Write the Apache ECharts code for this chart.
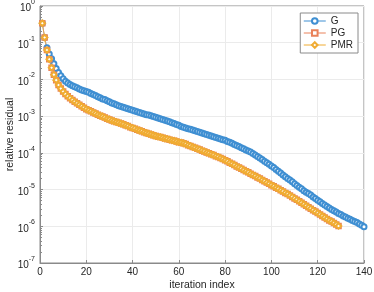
<!DOCTYPE html>
<html>
<head>
<meta charset="utf-8">
<script src="https://cdn.jsdelivr.net/npm/echarts@6/dist/echarts.min.js"></script>
<style>html,body{margin:0;padding:0;background:#fff}#c{width:374px;height:292px}</style>
</head>
<body>
<div id="c"></div>
<script>
// log10 of relative residual, iterations 1..N
const gLog10 = [-0.47,-0.86,-1.14,-1.31,-1.44,-1.57,-1.70,-1.81,-1.90,-1.98,
-2.05,-2.10,-2.14,-2.17,-2.20,-2.23,-2.26,-2.29,-2.31,-2.33,
-2.35,-2.38,-2.41,-2.44,-2.47,-2.50,-2.53,-2.55,-2.58,-2.61,
-2.64,-2.66,-2.69,-2.72,-2.74,-2.76,-2.78,-2.80,-2.82,-2.84,
-2.86,-2.88,-2.90,-2.92,-2.94,-2.96,-2.97,-2.99,-3.01,-3.03,
-3.05,-3.07,-3.09,-3.11,-3.13,-3.15,-3.18,-3.20,-3.23,-3.25,
-3.28,-3.30,-3.32,-3.34,-3.36,-3.38,-3.40,-3.42,-3.44,-3.46,
-3.48,-3.50,-3.52,-3.54,-3.56,-3.58,-3.60,-3.62,-3.64,-3.66,
-3.69,-3.71,-3.74,-3.77,-3.80,-3.83,-3.86,-3.89,-3.92,-3.95,
-3.98,-4.02,-4.06,-4.10,-4.14,-4.18,-4.23,-4.27,-4.31,-4.36,
-4.40,-4.45,-4.50,-4.55,-4.60,-4.65,-4.70,-4.74,-4.79,-4.84,
-4.89,-4.94,-4.98,-5.03,-5.07,-5.11,-5.15,-5.20,-5.24,-5.29,
-5.33,-5.38,-5.42,-5.46,-5.50,-5.54,-5.58,-5.61,-5.65,-5.68,
-5.72,-5.75,-5.78,-5.81,-5.84,-5.87,-5.90,-5.94,-5.97,-6.01];

const pgLog10 = [-0.47,-0.86,-1.20,-1.45,-1.68,-1.87,-2.02,-2.15,-2.25,-2.33,
-2.40,-2.46,-2.51,-2.56,-2.61,-2.65,-2.69,-2.73,-2.77,-2.81,
-2.84,-2.87,-2.90,-2.93,-2.96,-2.99,-3.01,-3.04,-3.07,-3.09,
-3.12,-3.14,-3.16,-3.18,-3.20,-3.22,-3.25,-3.27,-3.30,-3.32,
-3.34,-3.37,-3.39,-3.41,-3.44,-3.46,-3.48,-3.50,-3.52,-3.54,
-3.56,-3.57,-3.59,-3.61,-3.62,-3.64,-3.66,-3.67,-3.69,-3.71,
-3.72,-3.74,-3.76,-3.79,-3.81,-3.84,-3.86,-3.89,-3.91,-3.94,
-3.96,-3.99,-4.01,-4.04,-4.06,-4.09,-4.11,-4.14,-4.17,-4.20,
-4.23,-4.27,-4.30,-4.33,-4.37,-4.40,-4.43,-4.47,-4.50,-4.53,
-4.57,-4.60,-4.63,-4.67,-4.70,-4.74,-4.77,-4.81,-4.84,-4.88,
-4.91,-4.95,-4.98,-5.02,-5.05,-5.09,-5.12,-5.16,-5.20,-5.24,
-5.28,-5.32,-5.36,-5.40,-5.44,-5.48,-5.52,-5.56,-5.60,-5.64,
-5.68,-5.72,-5.76,-5.80,-5.84,-5.87,-5.91,-5.95,-5.99];

const pmrLog10 = [-0.47,-0.86,-1.20,-1.45,-1.68,-1.87,-2.02,-2.15,-2.25,-2.33,
-2.40,-2.46,-2.51,-2.56,-2.61,-2.65,-2.69,-2.73,-2.77,-2.81,
-2.84,-2.87,-2.90,-2.93,-2.96,-2.99,-3.01,-3.04,-3.07,-3.09,
-3.12,-3.14,-3.16,-3.18,-3.20,-3.22,-3.25,-3.27,-3.30,-3.32,
-3.34,-3.37,-3.39,-3.41,-3.44,-3.46,-3.48,-3.50,-3.52,-3.54,
-3.56,-3.57,-3.59,-3.61,-3.62,-3.64,-3.66,-3.67,-3.69,-3.71,
-3.72,-3.74,-3.76,-3.79,-3.81,-3.84,-3.86,-3.89,-3.91,-3.94,
-3.96,-3.99,-4.01,-4.04,-4.06,-4.09,-4.11,-4.14,-4.17,-4.20,
-4.23,-4.27,-4.30,-4.33,-4.37,-4.40,-4.43,-4.47,-4.50,-4.53,
-4.57,-4.60,-4.63,-4.67,-4.70,-4.74,-4.77,-4.81,-4.84,-4.88,
-4.91,-4.95,-4.98,-5.02,-5.05,-5.09,-5.12,-5.16,-5.20,-5.24,
-5.28,-5.32,-5.36,-5.40,-5.44,-5.48,-5.52,-5.56,-5.60,-5.64,
-5.68,-5.72,-5.76,-5.80,-5.84,-5.87,-5.91,-5.95,-5.99];

const seriesNames = ['G', 'PG', 'PMR'];
const xTicks = [0, 20, 40, 60, 80, 100, 120, 140];
const yTickExponents = [0, -1, -2, -3, -4, -5, -6, -7];

function toPairs(logs) {
  return logs.map((e, i) => [i + 1, Math.pow(10, e)]);
}

const FONT = "'Liberation Sans', Arial, sans-serif";
const TXT = '#262626';
const chart = echarts.init(document.getElementById('c'), null, {renderer: 'canvas'});
chart.setOption({
  animation: false,
  backgroundColor: '#fff',
  textStyle: {fontFamily: FONT},
  grid: {left: 40, right: 10, top: 6, bottom: 29, containLabel: false, outerBoundsMode: 'none',
    show: true, borderColor: '#8a8a8a', borderWidth: 1, backgroundColor: 'transparent'},
  legend: {
    orient: 'vertical', right: 16, top: 13,
    data: seriesNames,
    backgroundColor: '#fff', borderColor: '#8a8a8a', borderWidth: 1, borderRadius: 0,
    padding: [3, 5, 3, 3], itemGap: 2, itemWidth: 22, itemHeight: 7,
    lineStyle: {width: 1},
    itemStyle: {borderWidth: 1},
    textStyle: {fontSize: 10, color: TXT, fontFamily: FONT}
  },
  xAxis: {
    type: 'value', min: xTicks[0], max: xTicks[xTicks.length - 1], interval: 20,
    name: 'iteration index', nameLocation: 'middle', nameGap: 17, nameMoveOverlap: false,
    nameTextStyle: {fontSize: 10.5, color: TXT, fontFamily: FONT},
    axisLine: {lineStyle: {color: '#8a8a8a', width: 1}},
    axisTick: {inside: true, length: 3, lineStyle: {color: '#8a8a8a'}},
    axisLabel: {fontSize: 10, color: TXT, margin: 4, fontFamily: FONT},
    splitLine: {show: true, lineStyle: {color: '#ebebeb', width: 1}}
  },
  yAxis: {
    type: 'log', logBase: 10, min: Math.pow(10, yTickExponents[yTickExponents.length - 1]), max: Math.pow(10, yTickExponents[0]),
    name: 'relative residual', nameLocation: 'middle', nameGap: 24, nameMoveOverlap: false,
    nameTextStyle: {fontSize: 10.5, color: TXT, fontFamily: FONT},
    axisLine: {show: true, lineStyle: {color: '#8a8a8a', width: 1}},
    axisTick: {inside: true, length: 3, lineStyle: {color: '#8a8a8a'}},
    minorTick: {show: true, splitNumber: 9, length: 2, lineStyle: {color: '#8a8a8a'}},
    axisLabel: {
      margin: 5, color: TXT, fontFamily: FONT,
      formatter: function (v) {
        const e = Math.round(Math.log10(v));
        return '{b|10}{s|' + e + '}';
      },
      rich: {
        b: {fontSize: 10, color: TXT, verticalAlign: 'bottom', lineHeight: 15, fontFamily: FONT},
        s: {fontSize: 7, color: TXT, verticalAlign: 'top', lineHeight: 15, fontFamily: FONT}
      }
    },
    splitLine: {show: true, lineStyle: {color: '#ebebeb', width: 1}}
  },
  series: [
    {name: 'G', type: 'line', data: toPairs(gLog10), symbol: 'emptyCircle', symbolSize: 5,
      lineStyle: {width: 0.6, color: '#3f8fd2'}, itemStyle: {color: '#3f8fd2', borderWidth: 0.6}},
    {name: 'PG', type: 'line', data: toPairs(pgLog10), symbol: 'emptyRect', symbolSize: 4.5,
      lineStyle: {width: 0.6, color: '#e9825a'}, itemStyle: {color: '#e9825a', borderWidth: 0.6}},
    {name: 'PMR', type: 'line', data: toPairs(pmrLog10), symbol: 'emptyDiamond', symbolSize: 5.5,
      lineStyle: {width: 0.6, color: '#f0ac33'}, itemStyle: {color: '#f0ac33', borderWidth: 0.6}}
  ]
});
</script>
</body>
</html>
